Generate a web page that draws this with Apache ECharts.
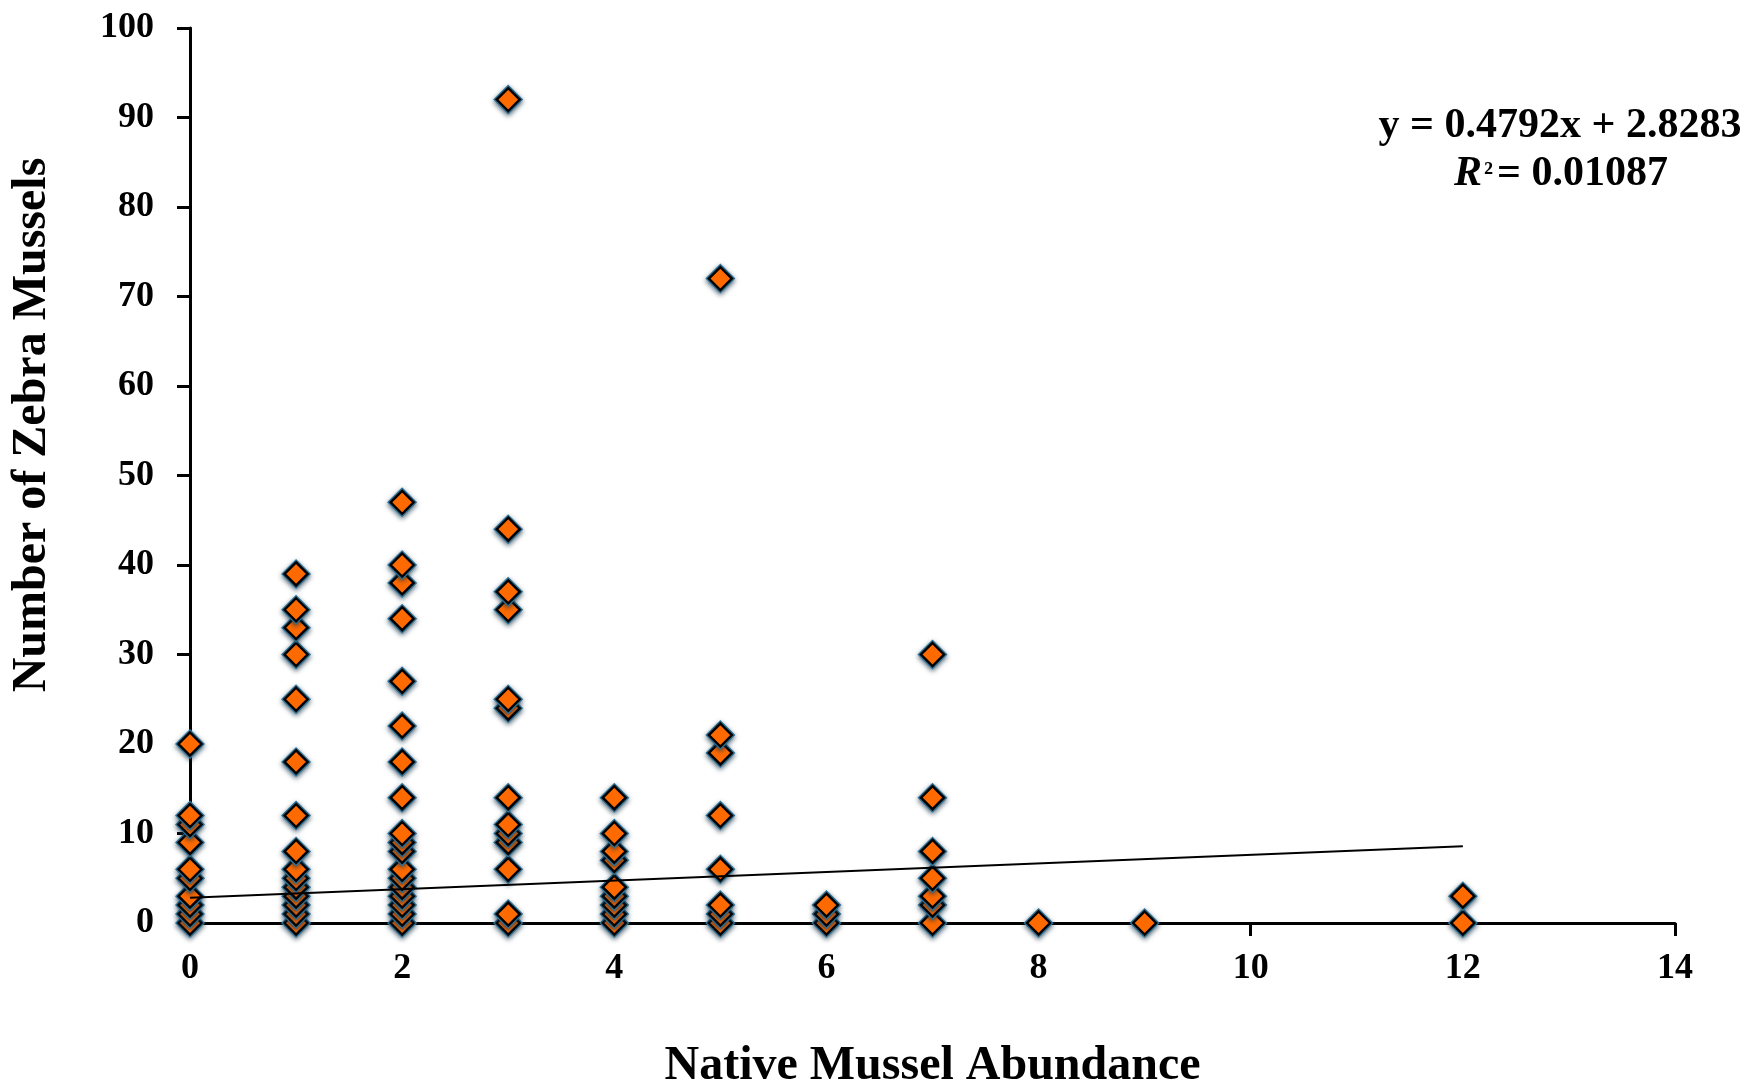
<!DOCTYPE html>
<html>
<head>
<meta charset="utf-8">
<script src="https://cdn.jsdelivr.net/npm/echarts@6/dist/echarts.min.js"></script>
<style>
html,body{margin:0;padding:0;background:#fff;}
#chart{width:1759px;height:1087px;}
</style>
</head>
<body>
<div id="chart"></div>
<script>
// Native mussel abundance (x) and zebra mussel counts (y)
const zebraAt0 = [0, 1, 2, 3, 5, 6, 9, 11, 12, 20];
const zebraAt1 = [0, 1, 2, 3, 4, 5, 6, 8, 12, 18, 25, 30, 33, 35, 39];
const zebraAt2 = [0, 1, 2, 3, 4, 5, 6, 8, 9, 10, 14, 18, 22, 27, 34, 38, 40, 47];
const zebraAt3 = [0, 1, 6, 9, 10, 11, 14, 24, 25, 35, 37, 44, 92];
const zebraAt4 = [0, 1, 2, 3, 4, 7, 8, 10, 14];
const zebraAt5 = [0, 1, 2, 6, 12, 19, 21, 72];
const zebraAt6 = [0, 1, 2];
const zebraAt7 = [0, 2, 3, 5, 8, 14, 30];
const zebraAt8 = [0];
const zebraAt9 = [0];
const zebraAt12 = [0, 3];
const nativeAbundance = [0, 1, 2, 3, 4, 5, 6, 7, 8, 9, 12];
const zebraColumns = [zebraAt0, zebraAt1, zebraAt2, zebraAt3, zebraAt4, zebraAt5, zebraAt6, zebraAt7, zebraAt8, zebraAt9, zebraAt12];

// Linear trend line as stated on the chart
const trendSlope = 0.4792;
const trendIntercept = 2.8283;
const trendRange = [0, 12];

const xTicks = [0, 2, 4, 6, 8, 10, 12, 14];
const yTicks = [0, 10, 20, 30, 40, 50, 60, 70, 80, 90, 100];

const points = [];
nativeAbundance.forEach(function (x, i) {
  zebraColumns[i].forEach(function (y) { points.push([x, y]); });
});
const trendData = trendRange.map(function (x) { return [x, trendSlope * x + trendIntercept]; });

const FONT = "'Liberation Serif', 'Times New Roman', serif";

function diamond(cx, cy, r) {
  return [[cx, cy - r], [cx + r, cy], [cx, cy + r], [cx - r, cy]];
}

const chart = echarts.init(document.getElementById('chart'), null, {renderer: 'canvas'});
chart.setOption({
  backgroundColor: '#ffffff',
  animation: false,
  grid: {left: 190, right: 84, top: 28, bottom: 164, containLabel: false, outerBoundsMode: 'none'},
  xAxis: {
    type: 'value',
    min: xTicks[0], max: xTicks[xTicks.length - 1], interval: 2,
    axisLine: {show: true, lineStyle: {color: '#000', width: 3}},
    axisTick: {show: true, inside: false, length: 13, lineStyle: {color: '#000', width: 3}},
    axisLabel: {color: '#000', fontFamily: FONT, fontWeight: 'bold', fontSize: 36, margin: 28},
    splitLine: {show: false},
    name: 'Native Mussel Abundance',
    nameLocation: 'middle',
    nameGap: 120,
    nameTextStyle: {color: '#000', fontFamily: FONT, fontWeight: 'bold', fontSize: 48}
  },
  yAxis: {
    type: 'value',
    min: yTicks[0], max: yTicks[yTicks.length - 1], interval: 10,
    axisLine: {show: true, lineStyle: {color: '#000', width: 3}},
    axisTick: {show: true, inside: false, length: 13, lineStyle: {color: '#000', width: 3}},
    axisLabel: {color: '#000', fontFamily: FONT, fontWeight: 'bold', fontSize: 36, margin: 36},
    splitLine: {show: false}
  },
  graphic: [
    {
      type: 'text',
      x: 33, y: 425,
      rotation: Math.PI / 2,
      style: {
        text: 'Number of Zebra Mussels',
        font: 'bold 48px ' + FONT,
        fill: '#000',
        align: 'center', verticalAlign: 'middle',
        textAlign: 'center', textVerticalAlign: 'middle'
      }
    },
    {
      type: 'text',
      x: 1560, y: 126,
      style: {
        text: 'y = 0.4792x + 2.8283',
        font: 'bold 42px ' + FONT,
        fill: '#000',
        align: 'center', verticalAlign: 'middle',
        textAlign: 'center', textVerticalAlign: 'middle'
      }
    },
    {
      type: 'text',
      x: 1561, y: 174,
      style: {
        text: '{i|R}{s|²}{n|= 0.01087}',
        align: 'center', verticalAlign: 'middle',
        textAlign: 'center', textVerticalAlign: 'middle',
        rich: {
          i: {font: 'italic bold 42px ' + FONT, fill: '#000', height: 44},
          s: {font: 'bold 30px ' + FONT, fill: '#000', height: 44, verticalAlign: 'top', padding: [0, 4, 0, 2]},
          n: {font: 'bold 42px ' + FONT, fill: '#000', height: 44}
        }
      }
    }
  ],
  series: [
    {
      type: 'custom',
      data: points,
      encode: {x: 0, y: 1},
      z: 3,
      renderItem: function (params, api) {
        const p = api.coord([api.value(0), api.value(1)]);
        return {
          type: 'group',
          children: [
            {
              type: 'polygon',
              shape: {points: diamond(p[0], p[1], 15)},
              style: {fill: '#2d7196', shadowBlur: 5, shadowColor: 'rgba(20,50,70,0.75)', shadowOffsetY: 2}
            },
            {
              type: 'polygon',
              shape: {points: diamond(p[0], p[1], 11.5)},
              style: {fill: '#FF6A00', stroke: '#000', lineWidth: 2.4}
            }
          ]
        };
      }
    },
    {
      type: 'line',
      data: trendData,
      showSymbol: false,
      symbol: 'none',
      lineStyle: {color: '#000', width: 2},
      z: 5,
      silent: true
    }
  ]
});
</script>
</body>
</html>
